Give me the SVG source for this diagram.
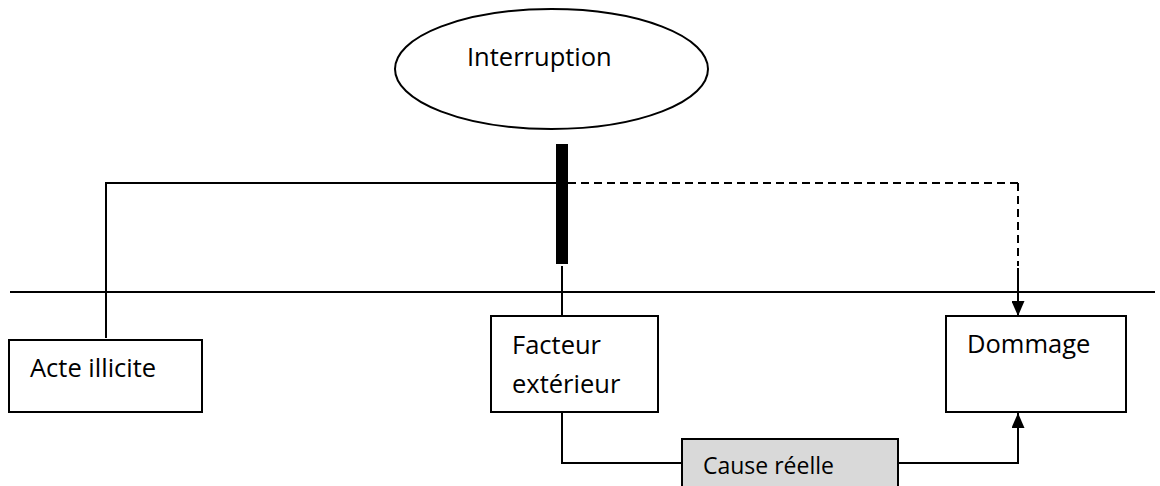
<svg xmlns="http://www.w3.org/2000/svg" width="1160" height="486" viewBox="0 0 1160 486">
  <style>
    .box { fill: #ffffff; stroke: #000000; stroke-width: 2; }
    .grey { fill: #d9d9d9; stroke: #000000; stroke-width: 2; }
    .lbl { font-family: "Open Sans", "Noto Sans", "Liberation Sans", sans-serif; font-size: 25.5px; fill: #000000; }
    .small { font-size: 23px; }
    .ln { fill: none; stroke: #000000; stroke-width: 2; }
    .dash { fill: none; stroke: #000000; stroke-width: 2; stroke-dasharray: 8 5; }
  </style>
  <defs>
    <marker id="head" viewBox="0 0 15 13" refX="15" refY="6.5" markerWidth="15" markerHeight="13" markerUnits="userSpaceOnUse" orient="auto">
      <path d="M0,0 L15,6.5 L0,13 Z" fill="#000000"/>
    </marker>
  </defs>

  <!-- time axis -->
  <g id="axis">
    <line class="ln" x1="10" y1="292" x2="1155" y2="292"/>
  </g>

  <g id="connectors">
    <!-- chain from the unlawful act toward the damage -->
    <polyline class="ln" points="106,338 106,183 556,183"/>
    <line class="dash" x1="568" y1="183" x2="1018" y2="183"/>
    <line class="dash" x1="1018" y1="183" x2="1018" y2="266"/>
    <line class="ln" x1="1018" y1="268" x2="1018" y2="316" marker-end="url(#head)"/>
    <!-- from the break down to the external factor -->
    <line class="ln" x1="562" y1="266" x2="562" y2="316"/>
    <!-- external factor through the real cause into the damage -->
    <polyline class="ln" points="562,412 562,463 682,463"/>
    <polyline class="ln" points="898,463 1018,463 1018,413" marker-end="url(#head)"/>
  </g>

  <g id="interruption">
    <ellipse class="box" cx="551.5" cy="69" rx="156.5" ry="60"/>
    <text class="lbl" x="467" y="66">Interruption</text>
  </g>

  <g id="break">
    <rect x="556" y="144" width="12" height="120" fill="#000000"/>
  </g>

  <g id="acte-illicite">
    <rect class="box" x="9" y="340" width="193" height="72"/>
    <text class="lbl" x="30" y="377">Acte illicite</text>
  </g>

  <g id="facteur-exterieur">
    <rect class="box" x="491" y="316" width="167" height="96"/>
    <text class="lbl" x="512" y="354">Facteur</text>
    <text class="lbl" x="512" y="393">extérieur</text>
  </g>

  <g id="dommage">
    <rect class="box" x="946" y="316" width="180" height="96"/>
    <text class="lbl" x="967" y="353">Dommage</text>
  </g>

  <g id="cause-reelle">
    <rect class="grey" x="682" y="439" width="216" height="60"/>
    <text class="lbl small" x="703" y="474">Cause réelle</text>
  </g>
</svg>
